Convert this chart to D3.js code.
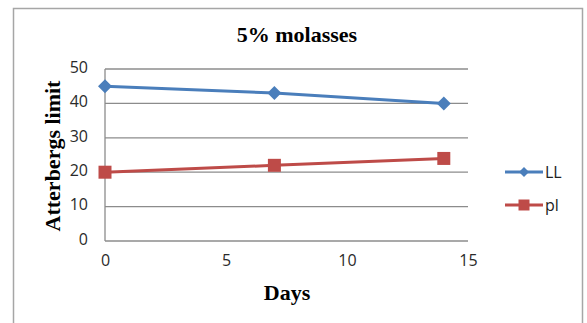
<!DOCTYPE html>
<html><head><meta charset="utf-8">
<script src="https://cdn.jsdelivr.net/npm/d3@7"></script>
<style>body{margin:0;background:#fff}svg{display:block}</style>
</head><body>
<svg id="c" width="587" height="323"></svg>
<script>
const days = [0, 7, 14];
const llValues = [45, 43, 40];
const plValues = [20, 22, 24];
const seriesNames = ["LL", "pl"];
const yTicks = [0, 10, 20, 30, 40, 50];
const xTicks = [0, 5, 10, 15];
const titleText = "5% molasses";
const xTitle = "Days";
const yTitle = "Atterbergs limit";

const svg = d3.select("#c");
svg.append("rect").attr("x",13.5).attr("y",8.5).attr("width",569).attr("height",330)
  .attr("fill","#fff").attr("stroke","#a6a6a6").attr("stroke-width",1.5);

const x = d3.scaleLinear().domain([0,15]).range([105,468]);
const y = d3.scaleLinear().domain([0,50]).range([241,69]);

svg.append("g").selectAll("line").data(yTicks).join("line")
  .attr("x1",x(0)).attr("x2",x(15)).attr("y1",d=>y(d)).attr("y2",d=>y(d))
  .attr("stroke","#8c8c8c").attr("stroke-width",1.3);
svg.append("line").attr("x1",x(0)).attr("x2",x(0)).attr("y1",y(0)).attr("y2",y(50))
  .attr("stroke","#8c8c8c").attr("stroke-width",1.3);

const yAxis = d3.axisLeft(y).tickValues(yTicks).tickSize(0).tickPadding(17);
const gy = svg.append("g").attr("transform",`translate(${x(0)},0)`).call(yAxis);
gy.select(".domain").remove();
gy.selectAll("text").attr("font-family","Open Sans, sans-serif").attr("font-size",16).attr("fill","#2a2a2a").attr("dy","0.2em");

const xAxis = d3.axisBottom(x).tickValues(xTicks).tickSize(0).tickPadding(14);
const gx = svg.append("g").attr("transform",`translate(0,${y(0)})`).call(xAxis);
gx.select(".domain").remove();
gx.selectAll("text").attr("font-family","Open Sans, sans-serif").attr("font-size",16).attr("fill","#2a2a2a");

svg.append("text").attr("x",297).attr("y",42).attr("text-anchor","middle")
  .attr("font-family","Liberation Serif, serif").attr("font-weight","bold").attr("font-size",22).text(titleText);
svg.append("text").attr("x",287).attr("y",300).attr("text-anchor","middle")
  .attr("font-family","Liberation Serif, serif").attr("font-weight","bold").attr("font-size",22).text(xTitle);
svg.append("text").attr("transform","translate(60,156) rotate(-90)").attr("text-anchor","middle")
  .attr("font-family","Liberation Serif, serif").attr("font-weight","bold").attr("font-size",22).text(yTitle);

const colors = ["#4a7ebb","#be4b48"];
const series = [llValues, plValues];
const line = d3.line().x((d,i)=>x(days[i])).y(d=>y(d));
function marker(si, s) {
  if (si === 0) return `M0,${-s}L${s},0L0,${s}L${-s},0Z`;
  return `M${-s},${-s}H${s}V${s}H${-s}Z`;
}
series.forEach((vals,si)=>{
  svg.append("path").datum(vals).attr("d",line).attr("fill","none")
    .attr("stroke",colors[si]).attr("stroke-width",3);
  svg.append("g").selectAll("path").data(vals).join("path")
    .attr("transform",(d,i)=>`translate(${x(days[i])},${y(d)})`)
    .attr("d",marker(si, si===0?7:6.5)).attr("fill",colors[si]);
});

const legY = [172, 205];
seriesNames.forEach((n,i)=>{
  svg.append("line").attr("x1",505).attr("x2",543).attr("y1",legY[i]).attr("y2",legY[i])
    .attr("stroke",colors[i]).attr("stroke-width",3);
  svg.append("path").attr("transform",`translate(524,${legY[i]})`)
    .attr("d",marker(i, i===0?5:5.5)).attr("fill",colors[i]);
  svg.append("text").attr("x",545).attr("y",legY[i]).attr("dy","0.35em")
    .attr("font-family","Open Sans, sans-serif").attr("font-size",16).attr("fill","#222").text(n);
});
</script>
</body></html>
